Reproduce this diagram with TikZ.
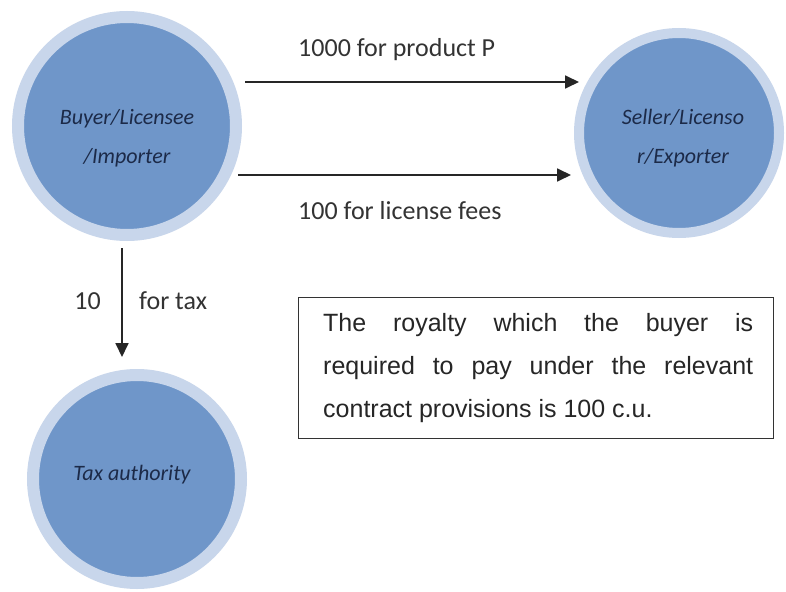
\documentclass[tikz,border=0pt]{standalone}
\usepackage{fontspec}
\setmainfont{Carlito}
\newfontfamily\boxfont{Liberation Sans}
\usetikzlibrary{arrows.meta}
\definecolor{discfill}{HTML}{6F96C9}
\definecolor{ringcol}{HTML}{C8D6EB}
\definecolor{labelnavy}{HTML}{1C2A48}
\begin{document}
\begin{tikzpicture}[x=1pt,y=-1pt,
  party/.style={circle, fill=discfill, draw=ringcol, inner sep=0pt},
  partyname/.style={font=\fontsize{22}{39}\selectfont\itshape, text=labelnavy, align=center, inner sep=0pt},
  flow/.style={draw=black!85, line width=1.8pt, -{Triangle[length=14pt,width=13pt]}},
  amount/.style={font=\fontsize{26}{30}\selectfont, text=black!80, inner sep=0pt}
]
\useasboundingbox (0,0) rectangle (786,591);
\fill[white] (0,0) rectangle (786,591);

% parties
\node[party, minimum size=218pt, line width=12pt] (buyer) at (127,126) {};
\node[party, minimum size=200pt, line width=10pt] (seller) at (679,133) {};
\node[party, minimum size=208pt, line width=12pt] (tax) at (137,479) {};

\node[partyname] (buyerlbl) at (127,138) {Buyer/Licensee\\/Importer};
\node[partyname] (sellerlbl) at (683,138) {Seller/Licenso\\r/Exporter};
\node[partyname] (taxlbl) at (132,475) {Tax authority};

% arrow end points
\coordinate (b1) at (245,82);
\coordinate (s1) at (579,82);
\coordinate (b2) at (238,175);
\coordinate (s2) at (571,175);
\coordinate (b3) at (122,248);
\coordinate (t3) at (122,357);

\draw[flow] (b1) -- (s1);
\draw[flow] (b2) -- (s2);
\draw[flow] (b3) -- (t3);

\node[amount, anchor=west] (lblprod) at (298,50) {1000 for product P};
\node[amount, anchor=west] (lblfees) at (298,211) {100 for license fees};
\node[amount, anchor=east] (lblten) at (101,301) {10};
\node[amount, anchor=west] (lbltax) at (139,301) {for tax};

% note box
\node[draw=black!80, line width=1.2pt, anchor=north west, minimum width=475pt, minimum height=141pt, inner sep=0pt] (note) at (298,297) {};
\node[anchor=north west, inner sep=0pt, text width=430pt, align=justify, text=black!85,
  font=\boxfont\fontsize{25}{43}\selectfont] (notetext) at (323,313)
  {The royalty which the buyer is\linebreak required to pay under the relevant\linebreak contract provisions is 100 c.u.};
\end{tikzpicture}
\end{document}
